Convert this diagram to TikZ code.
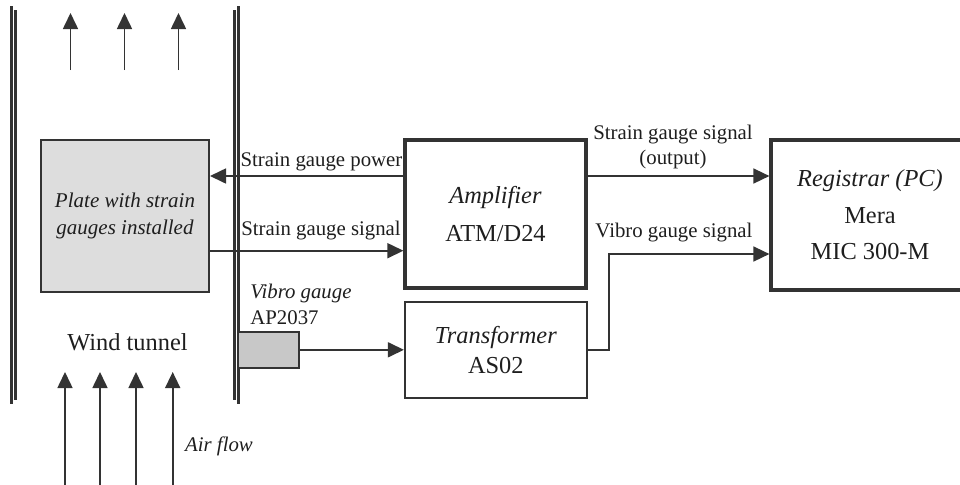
\documentclass[tikz,border=0pt]{standalone}
\usepackage{fontspec}
\setmainfont{Liberation Serif}
\usepackage{tikz}
\usetikzlibrary{arrows.meta}
\definecolor{wtline}{RGB}{51,51,51}
\definecolor{wttext}{RGB}{30,30,30}
\definecolor{plategray}{RGB}{221,221,221}
\definecolor{gaugegray}{RGB}{200,200,200}

\begin{document}
\begin{tikzpicture}[x=0.5pt,y=-0.5pt,
    box/.style={draw=wtline, rectangle, inner sep=0pt, align=center, text=wttext},
    sig/.style={draw=wtline, line width=0.8pt, -{Triangle[length=8pt,width=7.5pt]}},
    wall/.style={draw=wtline, line width=1.3pt},
    lbl/.style={text=wttext, inner sep=0pt, align=center, font=\fontsize{10.4}{12.4}\selectfont}]
      \useasboundingbox (0,0) rectangle (960,484);
      \clip (0,0) rectangle (960,484);

      % Wind tunnel walls
      \draw[wall] (11.5,6) -- (11.5,404);
      \draw[wall] (15.5,10) -- (15.5,400);
      \draw[wall] (234.5,10) -- (234.5,400);
      \draw[wall] (238.5,6) -- (238.5,404);

      % Air flow
      \foreach \x in {65,100,136,172.7}
        \draw[sig] (\x,486) -- (\x,372);
      \foreach \x in {70.5,124.5,178.5}
        \draw[sig] (\x,70) -- (\x,13);

      % Plate
      \node[box, fill=plategray, line width=1pt, minimum width=84pt, minimum height=76pt,
        font=\fontsize{10.5}{13.3}\selectfont\itshape] (plate) at (125,216) {Plate with strain\\gauges installed};

      % Vibro gauge
      \node[box, fill=gaugegray, line width=1.1pt, minimum width=30.5pt, minimum height=18pt] (vbox) at (268.5,349.8) {};

      % Amplifier
      \node[box, line width=1.6pt, minimum width=90.5pt, minimum height=74pt,
        font=\fontsize{12.2}{19.2}\selectfont] (amp) at (495.5,214) {\textit{Amplifier}\\ATM/D24};

      % Transformer
      \node[box, line width=1.1pt, minimum width=90.8pt, minimum height=48pt,
        font=\fontsize{12.2}{15}\selectfont] (trans) at (495.8,350) {\textit{Transformer}\\AS02};

      % Registrar
      \node[box, line width=1.6pt, minimum width=99pt, minimum height=75pt,
        font=\fontsize{12.2}{18.3}\selectfont] (reg) at (870,215) {\textit{Registrar (PC)}\\Mera\\MIC 300-M};

      % Labels
      \node[lbl] (powlbl) at (321.5,162) {Strain gauge power};
      \node[lbl] (siglbl) at (321,231) {Strain gauge signal};
      \node[lbl] (outlbl) at (673,147) {Strain gauge signal\\(output)};
      \node[lbl] (vsiglbl) at (674,233) {Vibro gauge signal};
      \node[lbl, anchor=base west] (vname) at (250,298.3) {\textit{Vibro gauge}};
      \node[lbl, anchor=base west] (vmodel) at (250,324) {AP2037};
      \node[text=wttext, inner sep=0pt, anchor=base, font=\fontsize{12.2}{14}\selectfont] (tunnel) at (127.5,350) {Wind tunnel};
      \node[lbl, anchor=base] (airlbl) at (219,451.7) {\textit{Air flow}};

      % Arrows
      \draw[sig] (amp.west |- 0,176) -- (plate.east |- 0,176);
      \draw[sig] (plate.east |- 0,250.7) -- (amp.west |- 0,250.7);
      \draw[sig] (amp.east |- 0,176) -- (reg.west |- 0,176);
      \draw[sig] (vbox.east) -- (vbox.east -| trans.west);
      \draw[sig] (trans.east) -- ++(21,0) |- (reg.west |- 0,254);
    \end{tikzpicture}
\end{document}
